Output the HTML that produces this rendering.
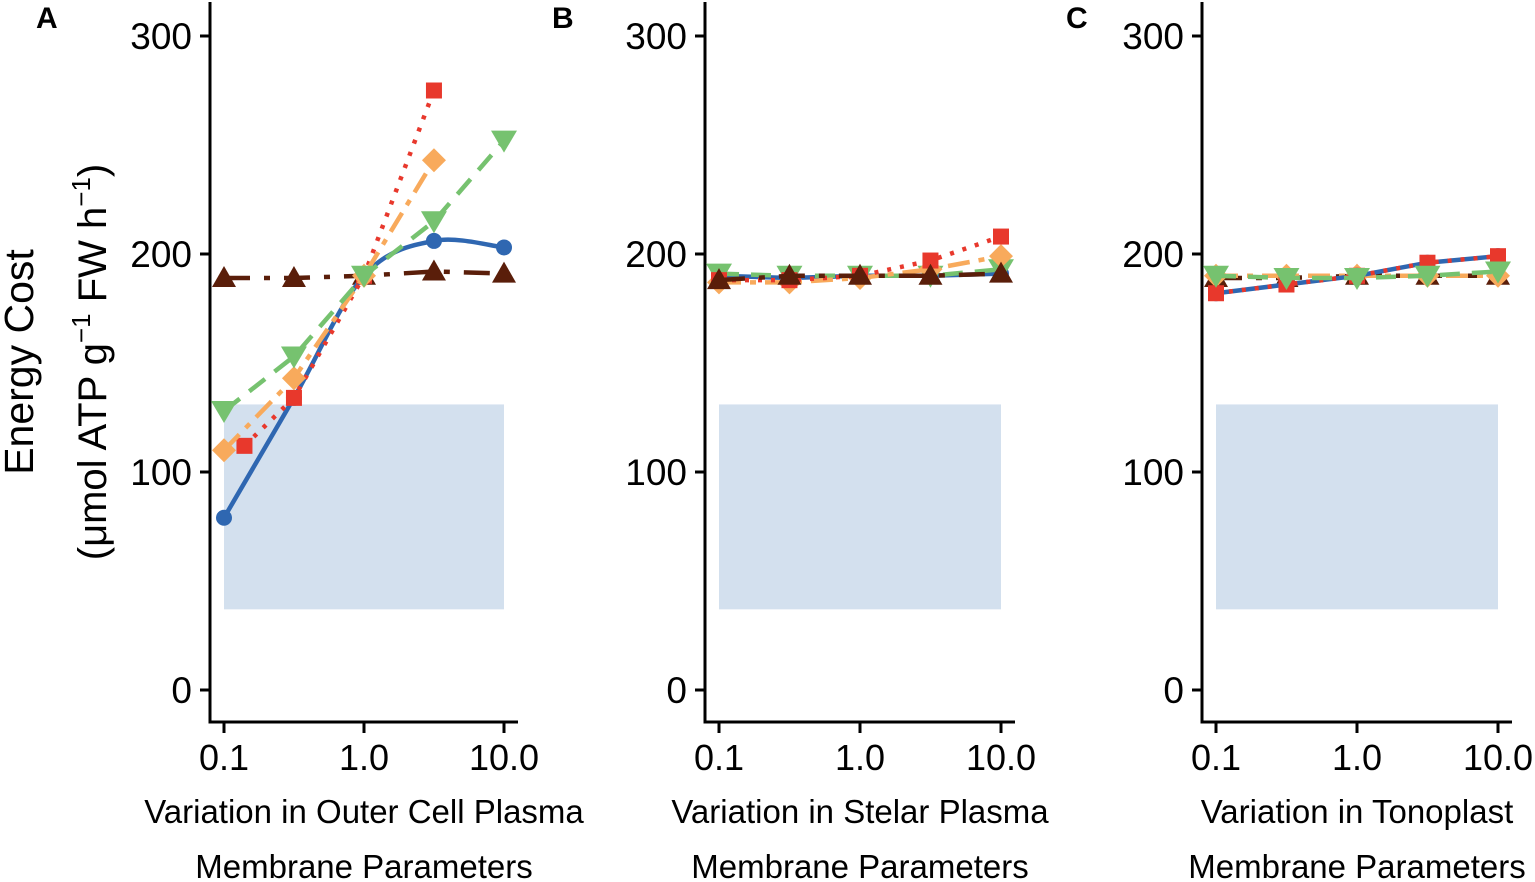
<!DOCTYPE html>
<html><head><meta charset="utf-8">
<style>
html,body{margin:0;padding:0;background:#fff;}
svg{display:block;font-family:"Liberation Sans",Arial,sans-serif;}
</style></head>
<body>
<svg id="chart" width="1535" height="882" viewBox="0 0 1535 882" xmlns="http://www.w3.org/2000/svg"></svg>
<script>
// ---- data ----
const panelLetters = ["A","B","C"];
const xLabels1 = ["Variation in Outer Cell Plasma","Variation in Stelar Plasma","Variation in Tonoplast"];
const xLabel2 = "Membrane Parameters";
const yTicks = [0,100,200,300];
const xTicks = [0.1,1,10];
const xTickLabels = ["0.1","1.0","10.0"];
const xs = [0.1,0.316,1,3.16,10];
// Panel A
const aBlue  = [79,134,190,206,203];
const aRedX  = [0.14,0.316,1,3.16];
const aRed   = [112,134,190,275];
const aOrangeX = [0.1,0.316,1,3.16];
const aOrange= [110,143,190,243];
const aGreen = [128,153,190,215,252];
const aBrown = [189,189,190,192,191];
// Panel B
const bBlue  = [190,189,190,190,191];
const bRed   = [188,188,190,197,208];
const bOrange= [187,187,189,193,199];
const bGreen = [191,190,190,190,193];
const bBrown = [188,190,190,190,191];
// Panel C
const cBlue  = [182,186,190,196,199];
const cRed   = [182,186,190,196,199];
const cOrange= [190,190,190,190,190];
const cGreen = [190,189,189,190,192];
const cBrown = [189,189,190,190,190];
const shadeRange = [37,131];

// ---- layout ----
const svg = document.getElementById('chart');
const NS = "http://www.w3.org/2000/svg";
function mk(tag, attrs, parent){const e=document.createElementNS(NS,tag);for(const k in attrs)e.setAttribute(k,attrs[k]);(parent||svg).appendChild(e);return e;}
const panels = [
  {ax:210, x0:224, x1:504, axEnd:518, letterX:36,
   series:[
    {name:'brown',c:'#5a1e0a',dash:'26 14 6 14',x:xs,y:aBrown,m:'tri'},
    {name:'blue',c:'#2f67b1',dash:'',x:xs,y:aBlue,m:'circ',smooth:true},
    {name:'red',c:'#e8382c',dash:'4 9',x:aRedX,y:aRed,m:'sq'},
    {name:'orange',c:'#f8aa5c',dash:'22 9 6 9',x:aOrangeX,y:aOrange,m:'dia'},
    {name:'green',c:'#76c26f',dash:'20 12',x:xs,y:aGreen,m:'itri'}]},
  {ax:705, x0:719, x1:1001, axEnd:1015, letterX:552,
   series:[
    {name:'blue',c:'#2f67b1',dash:'',x:xs,y:bBlue,m:'circ'},
    {name:'green',c:'#76c26f',dash:'20 12',x:xs,y:bGreen,m:'itri'},
    {name:'orange',c:'#f8aa5c',dash:'22 9 6 9',x:xs,y:bOrange,m:'dia'},
    {name:'red',c:'#e8382c',dash:'4 9',x:xs,y:bRed,m:'sq'},
    {name:'brown',c:'#5a1e0a',dash:'26 14 6 14',x:xs,y:bBrown,m:'tri'}]},
  {ax:1202, x0:1216, x1:1498, axEnd:1512, letterX:1066,
   series:[
    {name:'brown',c:'#5a1e0a',dash:'26 14 6 14',x:xs,y:cBrown,m:'tri'},
    {name:'orange',c:'#f8aa5c',dash:'22 9 6 9',x:xs,y:cOrange,m:'dia'},
    {name:'blue',c:'#2f67b1',dash:'',x:xs,y:cBlue,m:'circ'},
    {name:'red',c:'#e8382c',dash:'4 9',x:xs,y:cRed,m:'sq'},
    {name:'green',c:'#76c26f',dash:'20 12',x:xs,y:cGreen,m:'itri'}]}
];
const yScale = v => 690 - v*(654/300);

panels.forEach((p,pi)=>{
  const xScale = v => p.x0 + (Math.log10(v)+1)/2*(p.x1-p.x0);
  const g = mk('g',{});
  
  
  const r = mk('rect',{x:xScale(0.1),y:yScale(shadeRange[1]),width:xScale(10)-xScale(0.1),height:yScale(shadeRange[0])-yScale(shadeRange[1]),fill:'#d3e0ee'},g);
  
  
  const ya = mk('line',{x1:p.ax,y1:2,x2:p.ax,y2:723,stroke:'#000','stroke-width':3},g);
  
  
  const xa = mk('line',{x1:p.ax-1.5,y1:722,x2:p.axEnd,y2:722,stroke:'#000','stroke-width':3},g);
  
  
  yTicks.forEach(t=>{
    mk('line',{x1:p.ax-10,y1:yScale(t),x2:p.ax,y2:yScale(t),stroke:'#000','stroke-width':3},g);
    const tx = mk('text',{x:p.ax-18,y:yScale(t)+13,'text-anchor':'end','font-size':37,fill:'#000'},g);
    tx.textContent = t;
    
    
  });
  xTicks.forEach((t,i)=>{
    mk('line',{x1:xScale(t),y1:722,x2:xScale(t),y2:733,stroke:'#000','stroke-width':3},g);
    const tx = mk('text',{x:xScale(t),y:770,'text-anchor':'middle','font-size':36,fill:'#000'},g);
    tx.textContent = xTickLabels[i];
    
    
  });
  const mid = (p.x0+p.x1)/2;
  const l1 = mk('text',{x:mid,y:823,'text-anchor':'middle','font-size':33,fill:'#000'},g);
  l1.textContent = xLabels1[pi];
  
  
  const l2 = mk('text',{x:mid,y:878,'text-anchor':'middle','font-size':33,fill:'#000'},g);
  l2.textContent = xLabel2;
  
  
  const lt = mk('text',{x:p.letterX,y:28,'font-size':30,'font-weight':'bold',fill:'#000'},g);
  lt.textContent = panelLetters[pi];
  
  
  p.series.forEach(s=>{
    const pts = s.x.map((xv,i)=>[xScale(xv),yScale(s.y[i])]);
    let d;
    if(s.smooth){
      d = 'M'+pts[0][0]+','+pts[0][1];
      for(let i=0;i<pts.length-1;i++){
        const p0=pts[Math.max(0,i-1)],p1=pts[i],p2=pts[i+1],p3=pts[Math.min(pts.length-1,i+2)];
        const c1=[p1[0]+(p2[0]-p0[0])/6,p1[1]+(p2[1]-p0[1])/6];
        const c2=[p2[0]-(p3[0]-p1[0])/6,p2[1]-(p3[1]-p1[1])/6];
        d+=' C'+c1+' '+c2+' '+p2;
      }
    } else d = 'M'+pts.map(q=>q.join(',')).join(' L');
    const path = mk('path',{d:d,fill:'none',stroke:s.c,'stroke-width':4.5,'stroke-dasharray':s.dash},g);
    
    
    pts.forEach(([x,y])=>{
      let m;
      if(s.m==='circ') m = mk('circle',{cx:x,cy:y,r:8,fill:s.c},g);
      else if(s.m==='sq') m = mk('rect',{x:x-8,y:y-8,width:16,height:16,fill:s.c},g);
      else if(s.m==='dia') m = mk('polygon',{points:`${x},${y-12} ${x+12},${y} ${x},${y+12} ${x-12},${y}`,fill:s.c},g);
      else if(s.m==='tri') m = mk('polygon',{points:`${x},${y-12} ${x+12},${y+9} ${x-12},${y+9}`,fill:s.c},g);
      else m = mk('polygon',{points:`${x-13},${y-10} ${x+13},${y-10} ${x},${y+12}`,fill:s.c},g);
      
      
    });
  });
});
const yt = mk('text',{transform:'translate(33,362) rotate(-90)','text-anchor':'middle','font-size':41,fill:'#000'});
yt.textContent = 'Energy Cost';


const yt2 = mk('text',{transform:'translate(106,362) rotate(-90)','text-anchor':'middle','font-size':40,fill:'#000'});
yt2.innerHTML = '(μmol ATP g<tspan dy="-16" font-size="26">−1</tspan><tspan dy="16"> FW h</tspan><tspan dy="-16" font-size="26">−1</tspan><tspan dy="16">)</tspan>';


</script>
</body></html>
